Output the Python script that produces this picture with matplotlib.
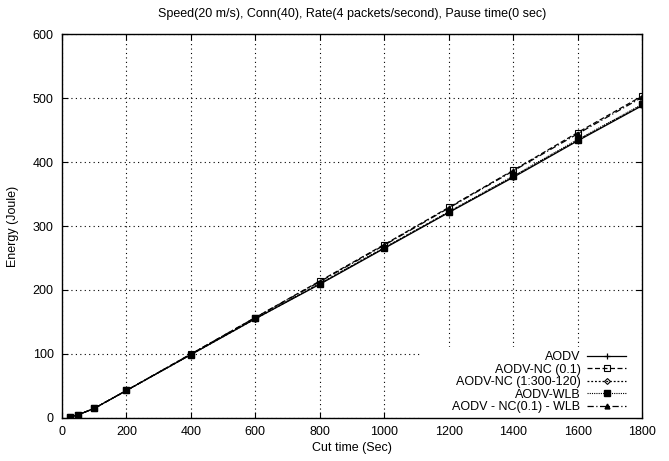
import matplotlib
matplotlib.use("Agg")
import matplotlib.pyplot as plt
from matplotlib.patches import Rectangle

plt.rcParams['font.family'] = ['Liberation Sans', 'DejaVu Sans']

# cut times (sec)
cut_time = [25, 50, 100, 200, 400, 600, 800, 1000, 1200, 1400, 1600, 1800]

# energy (joule)
aodv = [2, 5, 15, 43, 99, 155, 209, 265, 321, 376, 433, 488]
aodv_nc = [2, 5, 15, 43, 100, 157, 214, 271, 329, 387, 446, 503]
aodv_nc_300 = [2, 5, 15, 43, 99, 155, 210, 266, 322, 377, 434, 489]
aodv_wlb = [2, 5, 15, 43, 99, 156, 210, 266, 322, 378, 435, 490]
aodv_nc_wlb = [2, 5, 15, 43, 100, 157, 213, 270, 328, 386, 444, 501]

labels = ['AODV', 'AODV-NC (0.1)', 'AODV-NC (1:300-120)', 'AODV-WLB',
          'AODV - NC(0.1) - WLB']

fig = plt.figure(figsize=(6.69, 4.61), dpi=100)
ax = fig.add_axes([0.0927, 0.0933, 0.867, 0.8329])

fs = 9
ax.plot(cut_time, aodv, color='black', lw=0.9, ls='-', marker='+', ms=5,
        mew=0.9, label=labels[0])
ax.plot(cut_time, aodv_nc, color='black', lw=0.9, ls=(0, (4, 2)), marker='s',
        ms=4.5, mfc='none', mew=0.8, label=labels[1])
ax.plot(cut_time, aodv_nc_300, color='black', lw=0.9, ls=(0, (1.5, 1.5)), marker='D',
        ms=3, mfc='none', mew=0.8, label=labels[2])
ax.plot(cut_time, aodv_wlb, color='black', lw=0.8, ls=(0, (1, 1)), marker='s',
        ms=5, label=labels[3])
ax.plot(cut_time, aodv_nc_wlb, color='black', lw=0.9, ls=(0, (5, 2, 1, 2)), marker='^',
        ms=3.5, label=labels[4])

ax.set_xlim(0, 1800)
ax.set_ylim(0, 600)
ax.set_xticks(range(0, 1801, 200))
ax.set_yticks(range(0, 601, 100))
ax.tick_params(direction='in', top=True, right=True, labelsize=fs, length=4,
               pad=6, width=0.8)
ax.grid(True, ls=(0, (1, 3)), color='black', lw=0.8)
for s in ax.spines.values():
    s.set_linewidth(1.0)

ax.set_xlabel('Cut time (Sec)', fontsize=fs, labelpad=3)
ax.set_ylabel('Energy (Joule)', fontsize=fs, labelpad=10)
ax.set_title('Speed(20 m/s), Conn(40), Rate(4 packets/second), Pause time(0 sec)',
             fontsize=fs, pad=12)

# white key area like gnuplot
ax.add_patch(Rectangle((0.617, 0), 0.383, 0.185, transform=ax.transAxes,
                       facecolor='white', edgecolor='none', zorder=1.8))

leg = ax.legend(loc='lower right', bbox_to_anchor=(0.9724, 0.012), markerfirst=False,
                frameon=False, fontsize=fs, handlelength=3.1, handletextpad=0.55,
                labelspacing=0.05, borderaxespad=0.0, borderpad=0.0)

fig.savefig('out.png', dpi=100)
